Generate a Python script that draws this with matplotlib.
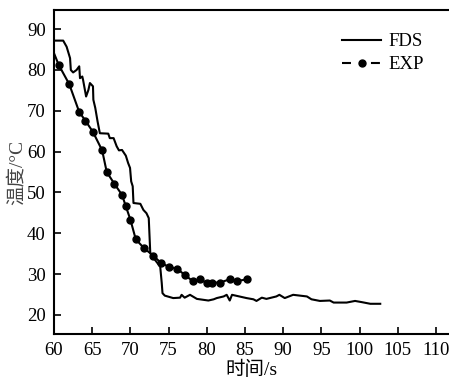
import matplotlib
matplotlib.use("Agg")
import matplotlib.pyplot as plt
from matplotlib.lines import Line2D

# 字体：西文用 Liberation Serif，中文回退到 Noto Sans CJK SC
plt.rcParams['font.family'] = ['Liberation Serif', 'Noto Sans CJK SC']

# FDS 模拟曲线
fds_t = [60.0, 61.2, 61.65, 62.1, 62.2, 62.5, 62.95, 63.3, 63.4, 63.7, 63.8, 64.2, 64.5,
         64.7, 65.1, 65.15, 65.4, 65.7, 66.0, 67.1, 67.3, 67.8, 68.2, 68.5, 68.9, 69.4,
         69.7, 69.95, 70.1, 70.3, 70.4, 71.3, 71.7, 72.1, 72.4, 72.6, 73.2, 73.9, 74.1,
         74.2, 74.5, 75.6, 76.5, 76.7, 77.1, 77.8, 78.7, 80.2, 80.9, 81.3, 82.2, 82.6,
         83.0, 83.3, 85.2, 86.1, 86.5, 87.2, 87.8, 89.1, 89.5, 90.2, 91.3, 92.2, 93.1,
         93.7, 94.8, 96.1, 96.6, 98.3, 99.4, 100.3, 101.4, 102.7]
fds_T = [87.2, 87.2, 85.7, 82.9, 80.0, 79.4, 80.0, 80.9, 78.0, 78.4, 77.6, 73.5, 75.1,
         76.8, 76.0, 72.7, 70.7, 67.4, 64.5, 64.4, 63.3, 63.3, 61.3, 60.3, 60.4, 59.0,
         57.2, 56.0, 52.7, 51.5, 47.4, 47.2, 45.7, 44.9, 43.7, 35.1, 33.5, 31.8, 27.8,
         25.3, 24.7, 24.1, 24.2, 24.9, 24.2, 24.9, 23.9, 23.5, 23.8, 24.1, 24.5, 24.9,
         23.5, 24.9, 24.1, 23.8, 23.4, 24.2, 23.9, 24.5, 24.9, 24.1, 24.9, 24.7, 24.5,
         23.8, 23.4, 23.5, 23.0, 23.0, 23.4, 23.1, 22.7, 22.7]

# 实验测量值
exp_t = [60.0, 60.6, 62.0, 63.3, 64.1, 65.1, 66.3, 66.9, 67.9, 68.9, 69.4, 70.0, 70.7,
         71.8, 73.0, 74.0, 75.1, 76.1, 77.1, 78.2, 79.1, 80.0, 80.7, 81.7, 83.0, 84.0, 85.3]
exp_T = [84.1, 81.3, 76.5, 69.7, 67.6, 64.8, 60.3, 55.0, 52.1, 49.4, 46.6, 43.3, 38.5,
         36.3, 34.5, 32.7, 31.7, 31.3, 29.8, 28.2, 28.7, 27.8, 27.9, 27.9, 28.7, 28.3, 28.7]

xticks = [60, 65, 70, 75, 80, 85, 90, 95, 100, 105, 110]
yticks = [20, 30, 40, 50, 60, 70, 80, 90]

fig = plt.figure(figsize=(4.49, 3.82), dpi=100)
ax = fig.add_axes([0.1203, 0.1257, 0.8797, 0.8481])

ax.plot(fds_t, fds_T, color='black', lw=1.5)
ax.plot(exp_t, exp_T, color='black', lw=1.5, marker='o', markersize=5,
        markevery=list(range(1, len(exp_t))))

ax.set_xlim(60, 111.7)
ax.set_ylim(15.3, 94.7)
ax.set_xticks(xticks)
ax.set_yticks(yticks)
ax.tick_params(direction='in', length=5, width=1.2, labelsize=13.5, pad=6,
               top=False, right=False)
for s in ax.spines.values():
    s.set_linewidth(1.5)
ax.spines['right'].set_visible(False)

ax.set_xlabel('时间/s', fontsize=14, labelpad=1)
ax.set_ylabel('温度/°C', fontsize=14, labelpad=1, color='#444444')

handles = [Line2D([], [], color='black', lw=1.5),
           Line2D([], [], color='black', lw=1.5, ls=(0, (4.3, 9.6)), marker='o', markersize=5)]
ax.legend(handles, ['FDS', 'EXP'], loc='upper right', bbox_to_anchor=(0.98, 0.98),
          frameon=False, fontsize=13.5, handlelength=2.1, handletextpad=0.4,
          labelspacing=0.3)

fig.savefig('out.png', dpi=100)
